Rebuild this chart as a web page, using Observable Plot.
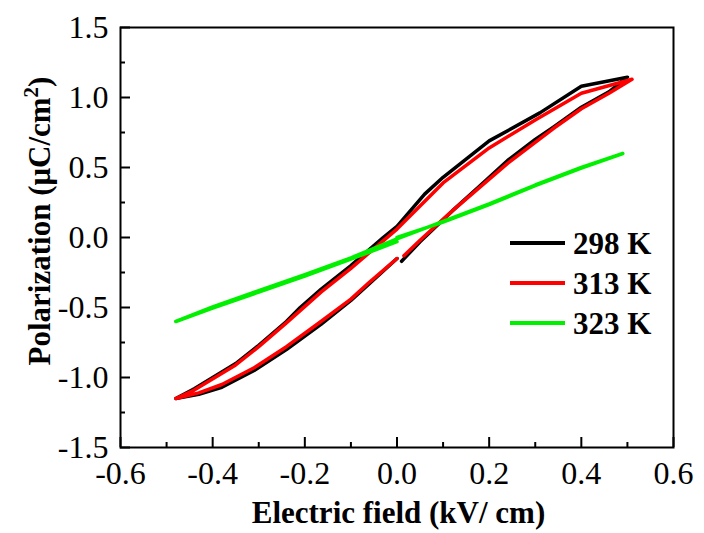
<!DOCTYPE html>
<html><head><meta charset="utf-8">
<script src="https://cdn.jsdelivr.net/npm/d3@7"></script>
<script src="https://cdn.jsdelivr.net/npm/@observablehq/plot@0.6"></script>
<style>
body{margin:0;background:#fff}
#wrap{position:relative;width:704px;height:533px;font-family:"Liberation Serif","Times New Roman",serif}
#legend{position:absolute;left:510px;top:223px}
.item{display:flex;align-items:center;height:40px}
.sw{width:55px;height:4px;margin-right:8px}
.lab{font-weight:bold;font-size:31px;line-height:31px}
</style>
</head><body><div id="wrap"><div id="legend"></div></div>
<script>
const series = ["298 K", "313 K", "323 K"];
const colors = ["#000000", "#ff0000", "#00f000"];

// 298 K loop (E in kV/cm, P in uC/cm2), in drawing order
const E298 = [0.01, 0.05, 0.12, 0.18, 0.24, 0.30, 0.34, 0.40, 0.46, 0.50,
  0.40, 0.31, 0.20, 0.10, 0.06, 0.00, -0.03, -0.10, -0.165, -0.21, -0.24, -0.30, -0.35, -0.44, -0.48,
  -0.43, -0.38, -0.31, -0.24, -0.165, -0.10, -0.06, 0.00];
const P298 = [-0.17, -0.03, 0.19, 0.37, 0.55, 0.70, 0.79, 0.93, 1.04, 1.145,
  1.08, 0.89, 0.69, 0.43, 0.31, 0.08, 0.00, -0.20, -0.37, -0.50, -0.60, -0.77, -0.90, -1.08, -1.15,
  -1.12, -1.07, -0.95, -0.80, -0.62, -0.45, -0.33, -0.15];

// 313 K loop
const E313 = [0.015, 0.05, 0.12, 0.18, 0.24, 0.30, 0.34, 0.40, 0.46, 0.51,
  0.40, 0.30, 0.20, 0.10, 0.00, -0.10, -0.165, -0.24, -0.30, -0.35, -0.44, -0.48,
  -0.43, -0.38, -0.31, -0.24, -0.165, -0.10, -0.06, 0.00];
const P313 = [-0.13, -0.02, 0.19, 0.36, 0.53, 0.68, 0.78, 0.92, 1.03, 1.13,
  1.03, 0.84, 0.64, 0.39, 0.06, -0.22, -0.39, -0.61, -0.78, -0.91, -1.09, -1.15,
  -1.11, -1.05, -0.93, -0.78, -0.60, -0.44, -0.32, -0.15];

// 323 K loop (very slim)
const E323 = [0.00, 0.10, 0.20, 0.30, 0.40, 0.49, 0.40, 0.30, 0.20, 0.10, 0.00,
  -0.10, -0.20, -0.30, -0.40, -0.48, -0.40, -0.30, -0.20, -0.10, 0.00];
const P323 = [0.00, 0.11, 0.235, 0.37, 0.495, 0.60, 0.50, 0.375, 0.24, 0.115, -0.01,
  -0.145, -0.265, -0.38, -0.495, -0.60, -0.505, -0.39, -0.275, -0.155, -0.03];

const xTicks = [-0.6, -0.4, -0.2, 0.0, 0.2, 0.4, 0.6];
const xMinor = [-0.5, -0.3, -0.1, 0.1, 0.3, 0.5];
const yTicks = [-1.5, -1.0, -0.5, 0.0, 0.5, 1.0, 1.5];
const yMinor = [-1.25, -0.75, -0.25, 0.25, 0.75, 1.25];

const xTitle = "Electric field (kV/ cm)";
const yTitleMain = "Polarization (μC/cm";
const yTitleSup = "2";
const yTitleEnd = ")";

const toRows = (E, P, t) => E.map((e, i) => ({E: e, P: P[i], T: t}));
const rows = [
  ...toRows(E298, P298, series[0]),
  ...toRows(E313, P313, series[1]),
  ...toRows(E323, P323, series[2])
];

const W = 704, H = 533;
const mL = 120, mR = 31, mT = 27, mB = 86;

const chart = Plot.plot({
  width: W, height: H,
  marginLeft: mL, marginRight: mR, marginTop: mT, marginBottom: mB,
  style: {fontFamily: "Liberation Serif, Times New Roman, serif", fontSize: "32px", color: "black", background: "white"},
  x: {domain: [-0.6, 0.6]},
  y: {domain: [-1.5, 1.5]},
  color: {domain: series, range: colors},
  marks: [
    Plot.line(rows, {x: "E", y: "P", z: "T", stroke: "T", strokeWidth: 3.5, strokeLinejoin: "round", strokeLinecap: "round"}),
    Plot.axisX(xTicks, {tickSize: 0, tickPadding: 14, tickFormat: d => d.toFixed(1), fontSize: 32, label: null}),
    Plot.axisX(xTicks, {tickSize: 10, dy: -10, tickFormat: () => "", strokeWidth: 2, label: null}),
    Plot.axisX(xMinor, {tickSize: 5, dy: -5, tickFormat: () => "", strokeWidth: 2, label: null}),
    Plot.axisY(yTicks, {tickSize: 0, tickPadding: 12, tickFormat: d => d.toFixed(1), fontSize: 32, label: null}),
    Plot.axisY(yTicks, {tickSize: 10, dx: 10, tickFormat: () => "", strokeWidth: 2, label: null}),
    Plot.axisY(yMinor, {tickSize: 5, dx: 5, tickFormat: () => "", strokeWidth: 2, label: null}),
    Plot.frame({stroke: "black", strokeWidth: 2})
  ]
});

const svg = d3.select(chart);
svg.append("text")
  .attr("x", mL + (W - mL - mR) / 2 + 2)
  .attr("y", 523)
  .attr("text-anchor", "middle")
  .attr("font-weight", "bold")
  .attr("font-size", 31)
  .attr("fill", "black")
  .text(xTitle);
const yt = svg.append("text")
  .attr("transform", `translate(50,221) rotate(-90)`)
  .attr("text-anchor", "middle")
  .attr("font-weight", "bold")
  .attr("font-size", 31)
  .attr("fill", "black");
yt.append("tspan").text(yTitleMain);
yt.append("tspan").attr("dy", -12).attr("font-size", 21).text(yTitleSup);
yt.append("tspan").attr("dy", 12).text(yTitleEnd);

const wrap = document.getElementById("wrap");
wrap.insertBefore(chart, wrap.firstChild);
const leg = d3.select("#legend");
series.forEach((s, i) => {
  const it = leg.append("div").attr("class", "item");
  it.append("div").attr("class", "sw").style("background", colors[i]);
  it.append("div").attr("class", "lab").text(s);
});
</script>
</body></html>
